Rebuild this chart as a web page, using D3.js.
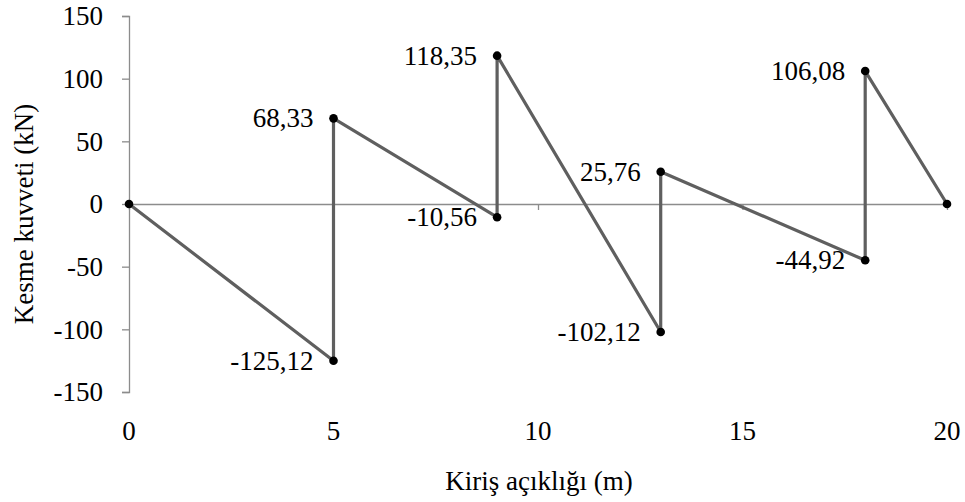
<!DOCTYPE html>
<html>
<head>
<meta charset="utf-8">
<script src="https://cdn.jsdelivr.net/npm/d3@7/dist/d3.min.js"></script>
<style>
  html, body { margin: 0; padding: 0; background: #fff; }
  svg { display: block; }
  svg text { font-family: "Liberation Serif", Tinos, "Times New Roman", "DejaVu Serif", serif; fill: #000; }
</style>
</head>
<body>
<svg id="chart" width="965" height="502"></svg>
<script>
// Shear force diagram along the beam span
const spanX = [0, 5, 5, 9, 9, 13, 13, 18, 18, 20];
const shear = [0, -125.12, 68.33, -10.56, 118.35, -102.12, 25.76, -44.92, 106.08, 0];
const labelled = [false, true, true, true, true, true, true, true, true, false];
const labelText = ["0", "-125,12", "68,33", "-10,56", "118,35", "-102,12", "25,76", "-44,92", "106,08", "0"];
const xTicks = [0, 5, 10, 15, 20];
const yTicks = [-150, -100, -50, 0, 50, 100, 150];
const xTitle = "Kiriş açıklığı (m)";
const yTitle = "Kesme kuvveti (kN)";

const serif = '"Liberation Serif", Tinos, "Times New Roman", "DejaVu Serif", serif';
const fontSize = 27;

const svg = d3.select("#chart");
const plotLeft = 129, plotRight = 947, plotTop = 16, plotBottom = 392;

const x = d3.scaleLinear().domain([0, 20]).range([plotLeft, plotRight]);
const y = d3.scaleLinear().domain([-150, 150]).range([plotBottom, plotTop]);

const axisColor = "#8c8c8c";

// Vertical axis with outside ticks
const yAxis = svg.append("g")
  .attr("transform", `translate(${plotLeft},0)`)
  .call(d3.axisLeft(y).tickValues(yTicks).tickSize(7).tickPadding(19).tickFormat(d => String(d)));
yAxis.attr("font-family", serif).attr("font-size", fontSize);
yAxis.select(".domain").attr("stroke", axisColor).attr("stroke-width", 1.3);
yAxis.selectAll(".tick line").attr("stroke", axisColor).attr("stroke-width", 1.3);
yAxis.selectAll(".tick text").attr("fill", "#000").attr("dy", "0.33em");

// Horizontal axis line at zero, ticks hanging below it
const xAxis = svg.append("g")
  .attr("transform", `translate(0,${y(0)})`)
  .call(d3.axisBottom(x).tickValues(xTicks).tickSize(6).tickSizeOuter(0).tickFormat(""));
xAxis.select(".domain").attr("stroke", axisColor).attr("stroke-width", 1.3);
xAxis.selectAll(".tick line").attr("stroke", axisColor).attr("stroke-width", 1.3);

// Span tick labels below the plot area
svg.append("g")
  .attr("font-family", serif)
  .attr("font-size", fontSize)
  .selectAll("text")
  .data(xTicks)
  .join("text")
  .attr("x", d => x(d))
  .attr("y", 440)
  .attr("text-anchor", "middle")
  .text(d => d);

// Shear line
const line = d3.line().x(d => x(d[0])).y(d => y(d[1]));
const pts = spanX.map((v, i) => [v, shear[i]]);
svg.append("path")
  .datum(pts)
  .attr("d", line)
  .attr("fill", "none")
  .attr("stroke", "#5f5f5f")
  .attr("stroke-width", 3.2)
  .attr("stroke-linejoin", "round");

// Markers
svg.append("g").selectAll("circle")
  .data(pts)
  .join("circle")
  .attr("cx", d => x(d[0]))
  .attr("cy", d => y(d[1]))
  .attr("r", 4.3)
  .attr("fill", "#000");

// Value labels to the left of each point
svg.append("g")
  .attr("font-family", serif)
  .attr("font-size", fontSize)
  .selectAll("text")
  .data(pts.map((d, i) => ({ d, i })).filter(o => labelled[o.i]))
  .join("text")
  .attr("x", o => x(o.d[0]) - 20)
  .attr("y", o => y(o.d[1]) + 9)
  .attr("text-anchor", "end")
  .text(o => labelText[o.i]);

// Axis titles
svg.append("text")
  .attr("x", 539)
  .attr("y", 490)
  .attr("text-anchor", "middle")
  .attr("font-family", serif)
  .attr("font-size", fontSize)
  .text(xTitle);

svg.append("text")
  .attr("transform", "translate(33,214) rotate(-90)")
  .attr("text-anchor", "middle")
  .attr("font-family", serif)
  .attr("font-size", fontSize)
  .text(yTitle);
</script>
</body>
</html>
